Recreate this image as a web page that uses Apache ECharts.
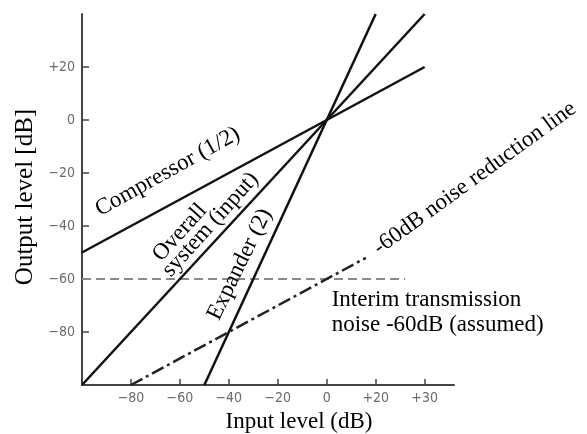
<!DOCTYPE html>
<html>
<head>
<meta charset="utf-8">
<script src="https://cdn.jsdelivr.net/npm/echarts@6/dist/echarts.min.js"></script>
<style>html,body{margin:0;padding:0;background:#fff}#c{width:587px;height:434px}</style>
</head>
<body>
<div id="c"></div>
<script>
// Axis ticks (value -> label); the original figure labels its last tick "+30"
const xTickValues = [-80, -60, -40, -20, 0, 20, 40];
const xTickLabels = ['\u221280', '\u221260', '\u221240', '\u221220', '0', '+20', '+30'];
const yTickValues = [20, 0, -20, -40, -60, -80];
const yTickLabels = ['+20', '0', '\u221220', '\u221240', '\u221260', '\u221280'];

// Lines (input dB, output dB)
const compressorX = [-100, 40];
const compressorY = [-50, 20];
const overallX = [-100, 40];
const overallY = [-100, 40];
const expanderX = [-50, 20];
const expanderY = [-100, 40];
const noiseRedX = [-80, 16];
const noiseRedY = [-100, -52];
const interimX = [-100, 32];
const interimY = [-60, -60];

// Annotations: text, anchor in data coords, rotation degrees
const annText = ['Compressor (1/2)', 'Overall', 'system (input)', 'Expander (2)', '-60dB noise reduction line'];
const annX = [-65, -60, -47.5, -35.5, 60.5];
const annY = [-19.5, -42.5, -39.5, -54.5, -22];
const annRot = [29, 48, 48, 64, 36];
const interimLines = ['Interim transmission', 'noise -60dB (assumed)'];
const interimAnchorX = 2;
const interimAnchorY = [-68, -77.5];

function pairs(xs, ys) { return xs.map((x, i) => [x, ys[i]]); }

const chart = echarts.init(document.getElementById('c'), null, {renderer: 'canvas'});
const axisColor = '#444';
const labelStyle = {color: '#6a6a6a', fontSize: 14, fontFamily: 'DejaVu Sans Condensed, DejaVu Sans, sans-serif'};

function lineSeries(name, xs, ys, style) {
  return {
    name, type: 'line', data: pairs(xs, ys), symbol: 'none', silent: true,
    lineStyle: Object.assign({color: '#111', width: 2.5}, style), z: 3
  };
}

const option = {
  animation: false,
  backgroundColor: '#fff',
  grid: {left: 82, right: 133, top: 14, bottom: 49},
  xAxis: {
    type: 'value', min: -100, max: 52, interval: 20,
    axisLine: {show: true, onZero: false, lineStyle: {color: axisColor, width: 2}},
    axisTick: {show: true, inside: true, length: 6, customValues: xTickValues, lineStyle: {color: axisColor, width: 1.5}},
    splitLine: {show: false},
    axisLabel: Object.assign({margin: 6, customValues: xTickValues,
      formatter: v => { const i = xTickValues.indexOf(v); return i >= 0 ? xTickLabels[i] : ''; }}, labelStyle)
  },
  yAxis: {
    type: 'value', min: -100, max: 40, interval: 20,
    axisLine: {show: true, onZero: false, lineStyle: {color: axisColor, width: 2}},
    axisTick: {show: true, inside: true, length: 7, customValues: yTickValues, lineStyle: {color: axisColor, width: 1.5}},
    splitLine: {show: false},
    axisLabel: Object.assign({margin: 7, customValues: yTickValues,
      formatter: v => { const i = yTickValues.indexOf(v); return i >= 0 ? yTickLabels[i] : ''; }}, labelStyle)
  },
  series: [
    lineSeries('Interim', interimX, interimY, {color: '#8a8a8a', width: 2, type: [9, 5]}),
    lineSeries('Compressor', compressorX, compressorY, {}),
    lineSeries('Overall', overallX, overallY, {}),
    lineSeries('Expander', expanderX, expanderY, {}),
    lineSeries('NoiseReduction', noiseRedX, noiseRedY, {color: '#222', width: 2.5, type: [13, 4, 3, 4]})
  ]
};
chart.setOption(option);

const serif = 'Liberation Serif, Times New Roman, serif';
const graphics = [];
annText.forEach((t, i) => {
  const p = chart.convertToPixel({gridIndex: 0}, [annX[i], annY[i]]);
  graphics.push({
    type: 'text', x: p[0], y: p[1], rotation: annRot[i] * Math.PI / 180, z: 10,
    style: {text: t, font: '23px ' + serif, fill: '#000', textAlign: 'center', textVerticalAlign: 'middle'}
  });
});
interimLines.forEach((t, i) => {
  const p = chart.convertToPixel({gridIndex: 0}, [interimAnchorX, interimAnchorY[i]]);
  graphics.push({
    type: 'text', x: p[0], y: p[1], z: 10,
    style: {text: t, font: '23px ' + serif, fill: '#000', textAlign: 'left', textVerticalAlign: 'middle'}
  });
});
// axis titles
graphics.push({
  type: 'text', x: 299, y: 422, z: 10,
  style: {text: 'Input level (dB)', font: '23px ' + serif, fill: '#000', textAlign: 'center', textVerticalAlign: 'middle'}
});
graphics.push({
  type: 'text', x: 25, y: 197, rotation: Math.PI / 2, z: 10,
  style: {text: 'Output level [dB]', font: '25px ' + serif, fill: '#000', textAlign: 'center', textVerticalAlign: 'middle'}
});
chart.setOption({graphic: graphics});
</script>
</body>
</html>
